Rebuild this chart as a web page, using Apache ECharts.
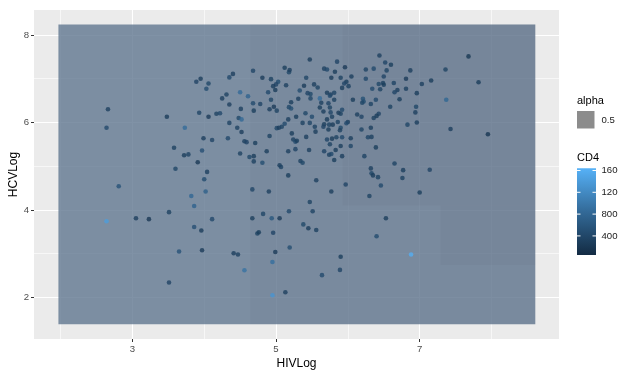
<!DOCTYPE html>
<html>
<head>
<meta charset="utf-8">
<script src="https://cdn.jsdelivr.net/npm/echarts@6/dist/echarts.min.js"></script>
<style>
html, body { margin: 0; padding: 0; background: #fff; }
#chart { width: 618px; height: 370px; }
</style>
</head>
<body>
<div id="chart"></div>
<script>
var hivLog = [
    2.66, 2.64, 3.48, 3.73, 3.89, 3.95, 4.06, 4.03, 4.25, 3.93, 4.06, 4.17, 4.22, 3.99, 4.11, 3.97, 3.58, 3.72, 3.78, 3.91,
    3.60, 4.04, 4.00, 2.81, 3.82, 3.86, 4.02, 2.64, 3.05, 3.23, 3.51, 3.86, 3.96, 4.11, 3.65, 3.97, 3.51, 4.41, 4.47, 4.56,
    4.67, 4.82, 4.94, 5.05, 5.18, 4.74, 4.76, 4.96, 5.19, 4.99, 4.95, 5.13, 4.95, 5.51, 6.53, 5.38, 5.45, 5.56, 6.40, 5.90,
    6.88, 5.89, 5.64, 7.68, 7.36, 7.82, 7.37, 7.43, 7.95, 4.35, 4.40, 4.68, 4.81, 4.93, 5.12, 5.18, 5.19, 5.03, 5.00, 4.96,
    5.14, 4.99, 4.89, 4.31, 4.50, 4.61, 4.93, 5.21, 4.35, 4.68, 4.78, 4.97, 5.01, 4.91, 5.18, 5.21, 4.51, 4.69, 4.48, 4.52,
    4.35, 5.17, 5.12, 5.47, 5.85, 5.96, 5.67, 5.71, 5.82, 6.25, 5.42, 5.77, 5.90, 6.05, 6.25, 5.98, 5.95, 5.53, 5.58, 5.39,
    5.33, 6.01, 5.92, 5.44, 5.48, 5.71, 5.76, 5.81, 5.75, 5.31, 5.48, 5.61, 5.81, 6.07, 6.21, 6.22, 6.20, 5.63, 5.73, 5.61,
    5.75, 5.92, 5.66, 5.76, 5.87, 5.90, 5.41, 6.13, 6.19, 5.28, 5.50, 5.78, 5.71, 5.86, 6.00, 5.98, 5.37, 5.47, 5.67, 5.74,
    5.79, 6.44, 6.52, 6.60, 6.36, 6.54, 6.87, 6.50, 6.81, 6.43, 6.49, 6.50, 6.64, 7.03, 7.16, 6.34, 6.45, 6.69, 6.65, 6.81,
    6.96, 6.39, 6.32, 6.72, 6.59, 6.95, 6.94, 6.43, 6.40, 6.36, 6.96, 6.83, 4.46, 4.52, 4.33, 4.56, 4.59, 4.71, 4.91, 5.01,
    5.04, 5.08, 5.22, 5.24, 5.27, 5.17, 5.27, 4.87, 4.50, 4.63, 4.69, 4.69, 4.81, 5.05, 5.07, 5.17, 4.67, 4.90, 5.54, 5.55,
    5.66, 5.73, 5.90, 5.89, 6.19, 5.29, 5.42, 5.71, 5.78, 5.84, 5.92, 6.04, 5.75, 5.90, 6.04, 5.46, 5.67, 5.83, 5.74, 5.77,
    5.92, 6.23, 5.81, 5.34, 5.37, 5.56, 5.97, 5.77, 5.47, 6.32, 6.28, 6.33, 6.39, 6.65, 6.32, 6.33, 6.35, 6.42, 6.77, 7.14,
    6.76, 6.46, 7.00, 6.30
];
var hcvLog = [
    6.30, 5.88, 6.13, 5.88, 6.93, 7.00, 6.89, 6.77, 6.55, 6.22, 6.13, 6.20, 6.21, 5.64, 5.60, 5.36, 5.42, 5.25, 5.27, 5.09,
    4.94, 4.87, 4.70, 4.54, 4.32, 4.09, 4.42, 3.74, 3.81, 3.79, 3.95, 3.61, 3.53, 3.79, 3.05, 3.08, 2.34, 3.01, 2.98, 2.62,
    3.81, 3.91, 3.81, 3.81, 3.97, 3.46, 3.49, 3.48, 3.14, 3.04, 2.81, 2.12, 2.05, 3.97, 3.81, 3.67, 3.58, 3.54, 3.40, 2.93,
    2.98, 2.63, 2.51, 7.51, 7.21, 6.92, 6.52, 5.85, 5.73, 7.03, 7.11, 7.18, 7.02, 6.99, 7.25, 7.15, 7.20, 6.93, 6.87, 6.83,
    6.85, 6.74, 6.69, 6.64, 6.69, 6.60, 6.52, 6.46, 6.41, 6.44, 6.42, 6.36, 6.27, 6.30, 6.35, 6.32, 6.31, 6.27, 6.10, 6.07,
    5.99, 6.07, 5.97, 7.44, 7.39, 7.26, 7.23, 7.21, 7.16, 7.21, 7.02, 7.02, 7.02, 7.05, 7.00, 6.93, 6.89, 6.87, 6.80, 6.84,
    6.73, 6.83, 6.79, 6.67, 6.65, 6.68, 6.64, 6.68, 6.61, 6.54, 6.55, 6.55, 6.52, 6.52, 6.54, 6.48, 6.45, 6.45, 6.44, 6.34,
    6.34, 6.29, 6.25, 6.23, 6.22, 6.20, 6.21, 6.18, 6.13, 6.13, 6.13, 6.13, 6.07, 6.01, 6.01, 5.98, 5.99, 5.99, 5.96, 5.95,
    5.95, 7.53, 7.37, 7.32, 7.23, 7.19, 7.19, 7.05, 7.00, 6.88, 6.90, 6.86, 6.90, 6.88, 6.96, 6.77, 6.76, 6.74, 6.69, 6.77,
    6.67, 6.52, 6.42, 6.53, 6.36, 6.36, 6.23, 6.20, 6.15, 6.10, 6.00, 5.95, 5.88, 5.78, 5.64, 5.57, 5.55, 5.53, 5.69, 5.87,
    5.88, 5.90, 5.75, 5.61, 5.56, 5.34, 5.39, 5.34, 5.29, 5.21, 5.23, 5.11, 5.08, 5.02, 4.98, 4.79, 4.47, 4.42, 5.90, 5.79,
    5.90, 5.84, 5.88, 5.82, 5.84, 5.58, 5.67, 5.61, 5.63, 5.66, 5.66, 5.64, 5.50, 5.46, 5.46, 5.37, 5.34, 5.37, 5.26, 5.28,
    5.23, 5.23, 5.14, 5.12, 5.08, 4.68, 4.58, 4.42, 4.18, 5.88, 5.66, 5.67, 5.43, 5.06, 4.95, 4.84, 4.79, 4.75, 4.91, 4.92,
    4.73, 4.56, 4.40, 4.32
];
var cd4 = [
    310, 420, 260, 820, 350, 280, 390, 450, 300, 370, 240, 330, 410, 290, 360, 480, 320, 270, 340, 220,
    380, 310, 440, 520, 760, 700, 680, 1400, 300, 210, 330, 480, 260, 400, 520, 250, 350, 290, 310, 900,
    280, 370, 560, 230, 400, 320, 270, 350, 460, 240, 850, 300, 1300, 340, 280, 390, 250, 310, 430, 270,
    1600, 360, 420, 200, 330, 260, 750, 290, 180, 410, 300, 360, 250, 320, 270, 380, 300, 440, 350, 290,
    310, 260, 400, 330, 800, 720, 370, 280, 300, 420, 350, 240, 330, 290, 380, 460, 310, 270, 390, 780,
    340, 300, 420, 260, 350, 230, 310, 400, 280, 340, 370, 250, 320, 290, 410, 270, 360, 300, 330, 250,
    440, 310, 280, 350, 390, 260, 300, 340, 420, 290, 370, 820, 310, 260, 500, 450, 380, 300, 350, 270,
    330, 410, 290, 360, 240, 320, 380, 300, 350, 270, 430, 310, 260, 340, 290, 400, 320, 370, 280, 330,
    250, 300, 360, 270, 410, 330, 290, 350, 240, 380, 310, 270, 340, 300, 260, 420, 330, 290, 360, 310,
    280, 400, 340, 270, 320, 380, 300, 350, 260, 310, 290, 370, 330, 280, 400, 310, 350, 270, 320, 380,
    290, 340, 260, 310, 420, 300, 350, 280, 330, 390, 260, 310, 450, 290, 340, 270, 360, 300, 320, 280,
    350, 260, 390, 310, 340, 270, 300, 360, 250, 320, 410, 290, 330, 280, 370, 300, 350, 260, 310, 400,
    290, 340, 270, 320, 380, 300, 350, 280, 330, 290, 360, 310, 270, 340, 300, 380, 260, 320, 290, 350,
    310, 400, 270, 330
];
var xTicks = [3, 5, 7];
var yTicks = [2, 4, 6, 8];
var xMinor = [2, 4, 6, 8];
var yMinor = [3, 5, 7];
var cd4Ticks = [400, 800, 1200, 1600];
var cd4Range = [50, 1640];
var alphaLevels = ['0.5'];
// the shaded rectangle (xmin, xmax, ymin, ymax) and its faint darker patches
var rectBox = [1.97, 8.61, 1.39, 8.24];
var patchBoxes = [
    [4.64, 8.61, 1.39, 8.24],
    [5.93, 8.61, 4.10, 8.24],
    [7.29, 8.61, 2.74, 4.10]
];

(function() {
    "use strict";
    var chart = echarts.init(document.getElementById('chart'));
    var font = 'Liberation Sans, Arial, sans-serif';

    var points = hivLog.map(function(x, i) {
        return [x, hcvLog[i], cd4[i]];
    });

    var gridLines = [];
    xMinor.forEach(function(v) { gridLines.push({ xAxis: v, lineStyle: { width: 0.6 } }); });
    yMinor.forEach(function(v) { gridLines.push({ yAxis: v, lineStyle: { width: 0.6 } }); });
    xTicks.forEach(function(v) { gridLines.push({ xAxis: v, lineStyle: { width: 1.1 } }); });
    yTicks.forEach(function(v) { gridLines.push({ yAxis: v, lineStyle: { width: 1.1 } }); });

    var patches = patchBoxes.map(function(b) {
        return [{ xAxis: b[0], yAxis: b[2] }, { xAxis: b[1], yAxis: b[3] }];
    });

    // legend on the right
    var barTop = 168.3, barBottom = 255, barLeft = 577, barWidth = 19;
    var legend = [
        { type: 'text', style: { x: 577, y: 100.5, text: 'alpha', fill: '#000', font: '11px ' + font, verticalAlign: 'middle', textVerticalAlign: 'middle' } },
        { type: 'rect', shape: { x: 577, y: 111, width: 17.5, height: 17.5 }, style: { fill: '#8c8c8c' } },
        { type: 'text', style: { x: 601.5, y: 120, text: alphaLevels[0], fill: '#1a1a1a', font: '9.6px ' + font, verticalAlign: 'middle', textVerticalAlign: 'middle' } },
        { type: 'text', style: { x: 577, y: 157.5, text: 'CD4', fill: '#000', font: '11px ' + font, verticalAlign: 'middle', textVerticalAlign: 'middle' } },
        {
            type: 'rect',
            shape: { x: barLeft, y: barTop, width: barWidth, height: barBottom - barTop },
            style: {
                fill: new echarts.graphic.LinearGradient(0, 0, 0, 1, [
                    { offset: 0, color: '#56B1F7' },
                    { offset: 0.5, color: '#336A98' },
                    { offset: 1, color: '#132B43' }
                ])
            }
        }
    ];
    cd4Ticks.forEach(function(v) {
        var y = barBottom - (v - cd4Range[0]) / (cd4Range[1] - cd4Range[0]) * (barBottom - barTop);
        legend.push({ type: 'line', shape: { x1: barLeft, y1: y, x2: barLeft + 3.5, y2: y }, style: { stroke: '#fff', lineWidth: 1 } });
        legend.push({ type: 'line', shape: { x1: barLeft + barWidth - 3.5, y1: y, x2: barLeft + barWidth, y2: y }, style: { stroke: '#fff', lineWidth: 1 } });
        legend.push({ type: 'text', style: { x: 601.5, y: y, text: String(v), fill: '#1a1a1a', font: '9.6px ' + font, verticalAlign: 'middle', textVerticalAlign: 'middle' } });
    });

    var option = {
        animation: false,
        grid: {
            left: 34, right: 59, top: 10, bottom: 31,
            outerBoundsMode: 'none', containLabel: false,
            show: true, backgroundColor: '#EBEBEB', borderWidth: 0
        },
        xAxis: {
            type: 'value', min: 1.63, max: 8.94,
            name: 'HIVLog', nameLocation: 'middle', nameGap: 19, nameMoveOverlap: false,
            nameTextStyle: { color: '#000', fontSize: 12, fontFamily: font },
            axisLine: { show: false },
            axisTick: { show: true, length: 3, customValues: xTicks, lineStyle: { color: '#333333' } },
            axisLabel: { customValues: xTicks, color: '#4D4D4D', fontSize: 9.6, fontFamily: font, margin: 5 },
            splitLine: { show: false }
        },
        yAxis: {
            type: 'value', min: 1.05, max: 8.57,
            name: 'HCVLog', nameLocation: 'middle', nameGap: 14, nameMoveOverlap: false,
            nameTextStyle: { color: '#000', fontSize: 12, fontFamily: font },
            axisLine: { show: false },
            axisTick: { show: true, length: 3, customValues: yTicks, lineStyle: { color: '#333333' } },
            axisLabel: { customValues: yTicks, color: '#4D4D4D', fontSize: 9.6, fontFamily: font, margin: 5 },
            splitLine: { show: false }
        },
        visualMap: {
            show: false, seriesIndex: 3, dimension: 2,
            min: cd4Range[0], max: cd4Range[1],
            inRange: { color: ['#132B43', '#56B1F7'] }
        },
        series: [
            {
                type: 'scatter', data: [], z: 1, silent: true,
                markLine: {
                    silent: true, symbol: 'none', z: 1, animation: false,
                    label: { show: false },
                    lineStyle: { color: '#ffffff', type: 'solid', width: 1 },
                    emphasis: { disabled: true },
                    data: gridLines
                }
            },
            {
                type: 'scatter', data: [], z: 2, silent: true,
                markArea: {
                    silent: true, z: 2, animation: false,
                    itemStyle: { color: 'rgba(96,119,144,0.8)' },
                    emphasis: { disabled: true },
                    data: [[{ xAxis: rectBox[0], yAxis: rectBox[2] }, { xAxis: rectBox[1], yAxis: rectBox[3] }]]
                }
            },
            {
                type: 'scatter', data: [], z: 2, silent: true,
                markArea: {
                    silent: true, z: 2, animation: false,
                    itemStyle: { color: 'rgba(80,84,90,0.05)' },
                    emphasis: { disabled: true },
                    data: patches
                }
            },
            {
                type: 'scatter', z: 3,
                symbolSize: 4.6,
                data: points
            }
        ],
        graphic: legend
    };
    chart.setOption(option);
})();
</script>
</body>
</html>
